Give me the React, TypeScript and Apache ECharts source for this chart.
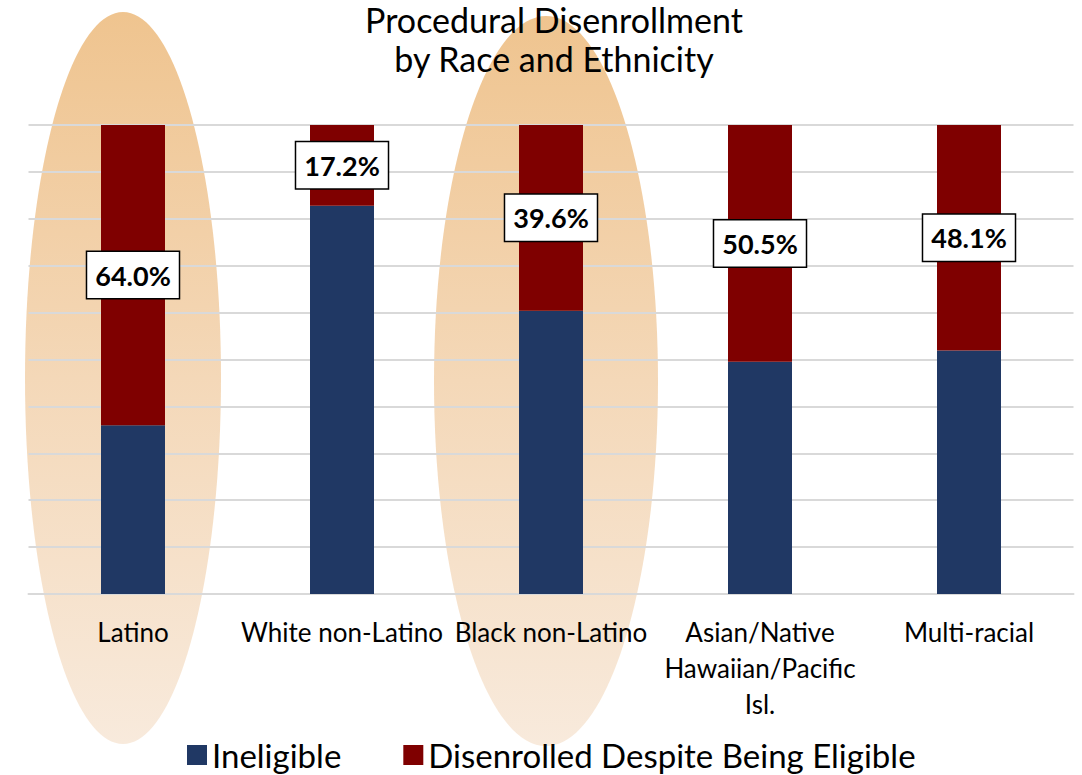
import React, { useEffect, useRef } from "react";
import * as echarts from "echarts";

// Groups along the x axis
const categories = [
  "Latino",
  "White non-Latino",
  "Black non-Latino",
  "Asian/Native\nHawaiian/Pacific\nIsl.",
  "Multi-racial",
];

// Share of procedural disenrollments (percent)
const ineligible = [36.0, 82.8, 60.4, 49.5, 51.9];
const disenrolledEligible = [64.0, 17.2, 39.6, 50.5, 48.1];

// Groups called out with a highlight oval
const highlighted = ["Latino", "Black non-Latino"];

const TITLE = "Procedural Disenrollment\nby Race and Ethnicity";

const FONT = "Lato, 'Open Sans', sans-serif";

export default function App() {
  const ref = useRef<HTMLDivElement>(null);

  useEffect(() => {
    if (!ref.current) return;
    const chart = echarts.init(ref.current, null, { renderer: "svg" });

    chart.setOption({
      animation: false,
      legend: {
        left: 182,
        top: 733,
        itemWidth: 20,
        itemHeight: 20,
        itemGap: 62,
        icon: "rect",
        textStyle: { fontFamily: FONT, fontSize: 33, lineHeight: 34, color: "#000" },
        data: ["Ineligible", "Disenrolled Despite Being Eligible"],
      },
      grid: { left: 28.5, right: 8.5, top: 125, bottom: 181 },
      xAxis: {
        type: "category",
        data: categories,
        axisLine: { lineStyle: { color: "#D9D9D9", width: 2 } },
        axisTick: { show: false },
        axisLabel: {
          fontFamily: FONT,
          fontSize: 26,
          lineHeight: 36,
          color: "#000",
          margin: 20,
          interval: 0,
        },
      },
      yAxis: {
        type: "value",
        min: 0,
        max: 100,
        interval: 10,
        axisLabel: { show: false },
        axisLine: { show: false },
        axisTick: { show: false },
        splitLine: { lineStyle: { color: "#D9D9D9", width: 2 } },
      },
      series: [
        {
          name: "Ineligible",
          type: "bar",
          stack: "total",
          barWidth: 64,
          itemStyle: { color: "#203864" },
          data: ineligible,
        },
        {
          name: "Disenrolled Despite Being Eligible",
          type: "bar",
          stack: "total",
          barWidth: 64,
          itemStyle: { color: "#7F0000" },
          data: disenrolledEligible,
          label: {
            show: true,
            position: "inside",
            formatter: (p: any) => `${Number(p.value).toFixed(1)}%`,
            fontFamily: FONT,
            fontSize: 27,
            fontWeight: "bold",
            color: "#000",
            backgroundColor: "#fff",
            borderColor: "#000",
            borderWidth: 1.5,
            padding: [10, 8, 9, 8],
          },
        },
      ],
    });

    // Highlight ovals behind the called-out groups
    const ovalSize: Record<string, { dx: number; rx: number; top: number; bottom: number }> = {
      Latino: { dx: -10, rx: 98, top: 12, bottom: 744 },
      "Black non-Latino": { dx: -5, rx: 112, top: 16, bottom: 746 },
    };
    const ovals = highlighted.map((name) => {
      const cx = chart.convertToPixel({ xAxisIndex: 0 }, name) as number;
      const s = ovalSize[name];
      return {
        type: "ellipse",
        z: -10,
        silent: true,
        shape: {
          cx: cx + s.dx,
          cy: (s.top + s.bottom) / 2,
          rx: s.rx,
          ry: (s.bottom - s.top) / 2,
        },
        style: {
          fill: new echarts.graphic.LinearGradient(0, 0, 0, 1, [
            { offset: 0, color: "#EFC48F" },
            { offset: 0.5, color: "#F4D8B8" },
            { offset: 1, color: "#F8EADC" },
          ]),
        },
      };
    });

    // Two-line centred heading
    const heading = {
      type: "text",
      z: 10,
      silent: true,
      style: {
        text: TITLE,
        x: 554,
        y: 0,
        align: "center",
        verticalAlign: "top",
        fill: "#000",
        fontFamily: FONT,
        fontSize: 34,
        lineHeight: 39,
      },
    };

    chart.setOption({ graphic: [...ovals, heading] });

    return () => chart.dispose();
  }, []);

  return (
    <div
      ref={ref}
      style={{ position: "absolute", left: 0, top: 0, width: 1082, height: 775 }}
    />
  );
}
